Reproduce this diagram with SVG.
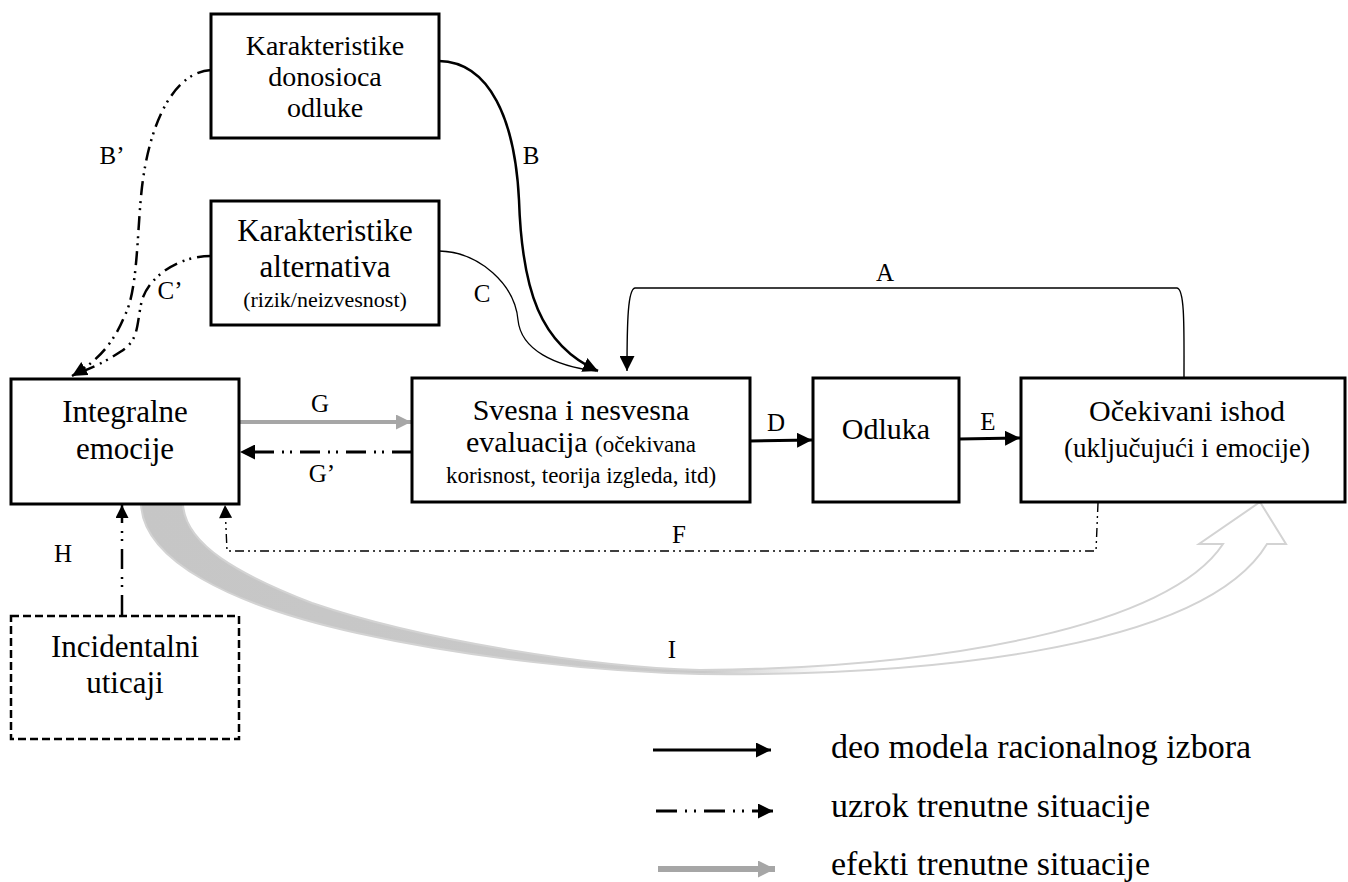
<svg xmlns="http://www.w3.org/2000/svg" width="1348" height="882" viewBox="0 0 1348 882">
<style>
  .box { fill: #ffffff; stroke: #000000; stroke-width: 3; }
  .dbox { fill: #ffffff; stroke: #000000; stroke-width: 2.5; stroke-dasharray: 8 4; }
  text { font-family: "Liberation Serif", "DejaVu Serif", serif; fill: #000000; }
  .t { font-size: 30px; text-anchor: middle; }
  .s { font-size: 23px; }
  .lbl { font-size: 25px; text-anchor: middle; }
  .leg { font-size: 34px; }
  .solid { fill: none; stroke: #000000; }
  .ddot { fill: none; stroke: #000000; stroke-dasharray: 20 8 2 6 2 8; }
</style>
<defs>
  <marker id="ah" viewBox="0 0 10 10" refX="10" refY="5" markerUnits="userSpaceOnUse" markerWidth="15" markerHeight="15" orient="auto">
    <path d="M0,0 L10,5 L0,10 Z" fill="#000000"/>
  </marker>
  <marker id="ahs" viewBox="0 0 10 10" refX="10" refY="5" markerUnits="userSpaceOnUse" markerWidth="14" markerHeight="13" orient="auto">
    <path d="M0,0 L10,5 L0,10 Z" fill="#000000"/>
  </marker>
  <marker id="ahg" viewBox="0 0 10 10" refX="10" refY="5" markerUnits="userSpaceOnUse" markerWidth="15" markerHeight="15" orient="auto">
    <path d="M0,0 L10,5 L0,10 Z" fill="#a6a6a6"/>
  </marker>
  <marker id="ahgl" viewBox="0 0 10 10" refX="10" refY="5" markerUnits="userSpaceOnUse" markerWidth="18" markerHeight="17" orient="auto">
    <path d="M0,0 L10,5 L0,10 Z" fill="#a6a6a6"/>
  </marker>
  <linearGradient id="igrad" gradientUnits="userSpaceOnUse" x1="140" y1="0" x2="1290" y2="0">
    <stop offset="0" stop-color="#c6c6c6"/>
    <stop offset="0.49" stop-color="#c9c9c9"/>
    <stop offset="0.6" stop-color="#ffffff"/>
    <stop offset="1" stop-color="#ffffff"/>
  </linearGradient>
</defs>

<g id="connectors">
  <!-- I : big curved block arrow -->
  <path id="conn-I" d="M141,504 C143,560 230,605 357,633 C470,658 600,672 700,674 C900,676 1200,655 1267,544 L1286,544 L1260,502 L1199,544 L1223,544 C1170,625 950,668 700,670 C590,667 420,640 312,603 C240,575 185,545 183,504 Z" fill="url(#igrad)" stroke="#d3d3d3" stroke-width="2" stroke-linejoin="miter"/>
  <!-- A -->
  <path id="conn-A" class="solid" stroke-width="1.4" d="M1184,377 C1184,330 1185,289 1177,288 L635,288 C628,289 627,320 627,371" marker-end="url(#ah)"/>
  <!-- B -->
  <path id="conn-B" class="solid" stroke-width="2.5" d="M439,61 C490,62 515,120 519,200 C522,290 540,345 598,371" marker-end="url(#ah)"/>
  <!-- C -->
  <path id="conn-C" class="solid" stroke-width="1.3" d="M439,251 C480,252 515,285 518,320 C521,350 555,366 596,371"/>
  <!-- B' -->
  <path id="conn-Bp" class="ddot" stroke-width="2.5" style="stroke-dasharray:14 6 2 5 2 6" d="M211,70 C175,72 150,120 142,187 C137,230 138,290 125,315 C115,340 100,360 72,376" marker-end="url(#ah)"/>
  <!-- C' -->
  <path id="conn-Cp" class="ddot" stroke-width="2.5" style="stroke-dasharray:14 6 2 5 2 6" d="M211,256 C180,256 150,275 142,300 C136,325 140,340 120,352 C105,362 92,368 78,373"/>
  <!-- D -->
  <path id="conn-D" class="solid" stroke-width="3" d="M750,441 L812,440" marker-end="url(#ah)"/>
  <!-- E -->
  <path id="conn-E" class="solid" stroke-width="3" d="M959,439 L1020,438" marker-end="url(#ah)"/>
  <!-- G -->
  <path id="conn-G" fill="none" stroke="#a6a6a6" stroke-width="4" d="M240,422 L411,422" marker-end="url(#ahg)"/>
  <!-- G' -->
  <path id="conn-Gp" class="ddot" stroke-width="3" d="M412,452 L240,452" marker-end="url(#ah)"/>
  <!-- F -->
  <path id="conn-F" class="ddot" stroke-width="1.4" style="stroke-dasharray:9 4 2 4 2 4" d="M1098,503 L1096,551 L227,551 L225,505" marker-end="url(#ahs)"/>
  <!-- H -->
  <path id="conn-H" class="ddot" stroke-width="2.5" d="M122,615 L122,505" marker-end="url(#ahs)"/>

  <!-- labels -->
  <text class="lbl" x="885" y="281">A</text>
  <text class="lbl" x="531" y="164">B</text>
  <text class="lbl" x="482" y="302">C</text>
  <text class="lbl" x="112" y="164">B’</text>
  <text class="lbl" x="170" y="299">C’</text>
  <text class="lbl" x="776" y="431">D</text>
  <text class="lbl" x="988" y="430">E</text>
  <text class="lbl" x="320" y="412">G</text>
  <text class="lbl" x="322" y="482">G’</text>
  <text class="lbl" x="679" y="543">F</text>
  <text class="lbl" x="63" y="562">H</text>
  <text class="lbl" x="672" y="658">I</text>
</g>

<g id="node-donosioca">
  <rect class="box" x="211" y="14" width="228" height="124"/>
  <text class="t" x="325" y="55" style="font-size:28px">Karakteristike</text>
  <text class="t" x="325" y="86" style="font-size:28px">donosioca</text>
  <text class="t" x="325" y="117" style="font-size:28px">odluke</text>
</g>

<g id="node-alternativa">
  <rect class="box" x="211" y="201" width="228" height="124"/>
  <text class="t" x="325" y="241" style="font-size:31px">Karakteristike</text>
  <text class="t" x="325" y="277" style="font-size:31px">alternativa</text>
  <text class="t" x="325" y="307" style="font-size:22px">(rizik/neizvesnost)</text>
</g>

<g id="node-integralne">
  <rect class="box" x="11" y="379" width="228" height="125"/>
  <text class="t" x="125" y="422" style="font-size:31px">Integralne</text>
  <text class="t" x="125" y="459" style="font-size:31px">emocije</text>
</g>

<g id="node-evaluacija">
  <rect class="box" x="412" y="378" width="338" height="124"/>
  <text class="t" x="581" y="420">Svesna i nesvesna</text>
  <text class="t" x="581" y="452">evaluacija <tspan class="s">(očekivana</tspan></text>
  <text class="t s" x="581" y="483">korisnost, teorija izgleda, itd)</text>
</g>

<g id="node-odluka">
  <rect class="box" x="813" y="378" width="146" height="124"/>
  <text class="t" x="886" y="439">Odluka</text>
</g>

<g id="node-ishod">
  <rect class="box" x="1021" y="378" width="324" height="124"/>
  <text class="t" x="1187" y="421">Očekivani ishod</text>
  <text class="t" x="1187" y="457" style="font-size:27px">(uključujući i emocije)</text>
</g>

<g id="node-incidentalni">
  <rect class="dbox" x="11" y="616" width="228" height="123"/>
  <text class="t" x="125" y="657" style="font-size:31px">Incidentalni</text>
  <text class="t" x="125" y="693" style="font-size:31px">uticaji</text>
</g>

<g id="legend">
  <path class="solid" stroke-width="3" d="M653,750 L771,750" marker-end="url(#ah)"/>
  <path class="ddot" stroke-width="3" style="stroke-dasharray:21 8 2 7 2 8" d="M656,811 L773,811" marker-end="url(#ah)"/>
  <path fill="none" stroke="#a6a6a6" stroke-width="6" d="M658,869 L775,869" marker-end="url(#ahgl)"/>
  <text class="leg" x="831" y="758">deo modela racionalnog izbora</text>
  <text class="leg" x="831" y="817">uzrok trenutne situacije</text>
  <text class="leg" x="831" y="875">efekti trenutne situacije</text>
</g>
</svg>
